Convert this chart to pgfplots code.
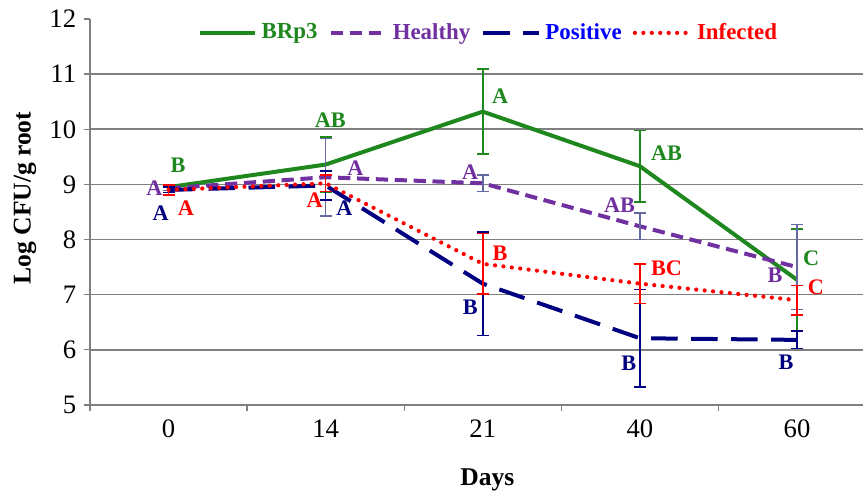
\documentclass[border=0pt]{standalone}
\usepackage{fontspec}
\setmainfont{Liberation Serif}
\usepackage{pgfplots}
\usepackage{pgfplotstable}
\pgfplotsset{compat=1.18}
\definecolor{gr}{RGB}{30,135,30}
\definecolor{pu}{RGB}{112,48,160}
\definecolor{nv}{RGB}{0,0,128}
\definecolor{bl}{RGB}{0,0,255}
\definecolor{rd}{RGB}{255,0,0}
\definecolor{sl}{RGB}{100,105,160}
\definecolor{gridc}{RGB}{128,128,128}

\pgfplotstableread{
x y e
0 8.95 0.00
1 9.36 0.50
2 10.32 0.77
3 9.33 0.65
4 7.27 0.92
}\brp
\pgfplotstableread{
x y e
0 8.93 0.04
1 9.13 0.70
2 9.02 0.15
3 8.24 0.24
4 7.50 0.77
}\healthy
\pgfplotstableread{
x y e
0 8.90 0.05
1 8.98 0.26
2 7.20 0.94
3 6.21 0.88
4 6.18 0.16
}\positive
\pgfplotstableread{
x y e
0 8.90 0.09
1 9.02 0.15
2 7.56 0.55
3 7.20 0.36
4 6.90 0.27
}\infected

\begin{document}
\begin{tikzpicture}
\begin{axis}[
  scale only axis, width=347.9pt, height=173.7pt,
  xmin=-0.5, xmax=4.42, ymin=5, ymax=12,
  axis lines*=left,
  axis line style={draw=gridc, line width=0.7pt},
  xtick={-0.5,0.5,1.5,2.5,3.5}, xticklabels={,,,,},
  extra x ticks={0,1,2,3,4}, extra x tick labels={0,14,21,40,60},
  extra x tick style={major tick length=0pt, grid=none},
  ytick={6,...,11}, extra y ticks={5,12}, extra y tick style={grid=none},
  ymajorgrids, grid style={gridc, line width=0.7pt},
  tick align=outside, major tick length=2.7pt,
  tick style={gridc, line width=0.6pt},
  /pgf/number format/assume math mode=true,
  tick label style={font=\fontsize{12}{14}\selectfont},
  xticklabel style={yshift=-3pt},
  xlabel={Days},
  xlabel style={font=\bfseries\fontsize{11.5}{13}\selectfont, at={(axis description cs:0.514,-0.195)}, anchor=center},
  ylabel={Log CFU/g root},
  ylabel style={font=\bfseries\fontsize{11.5}{13}\selectfont, at={(axis description cs:-0.0842,0.536)}, anchor=center},
  legend style={draw=none, fill=none, at={(axis description cs:0.517,0.964)}, anchor=center,
    legend columns=-1, font=\bfseries\fontsize{10.3}{12}\selectfont,
    /tikz/every even column/.append style={column sep=3pt}},
  legend image code/.code={\draw[#1] (0pt,0pt) -- (25pt,0pt);},
  clip=false,
]
\addplot[gr, line width=1.8pt, error bars/.cd, y dir=both, y explicit,
  error bar style={gr, solid, line width=0.7pt},
  error mark options={gr, solid, rotate=90, mark size=2.7pt, line width=0.7pt}]
  table[x=x, y=y, y error=e]{\brp};
\addlegendentry{\textcolor{gr}{BRp3}}
\addplot[pu, line width=1.8pt, dash pattern=on 5.5pt off 3pt, error bars/.cd, y dir=both, y explicit,
  error bar style={sl, solid, line width=0.7pt},
  error mark options={sl, solid, rotate=90, mark size=2.7pt, line width=0.7pt}]
  table[x=x, y=y, y error=e]{\healthy};
\addlegendentry{\textcolor{pu}{Healthy}}
\addplot[nv, line width=1.8pt, dash pattern=on 12pt off 6pt, error bars/.cd, y dir=both, y explicit,
  error bar style={nv, solid, line width=0.7pt},
  error mark options={nv, solid, rotate=90, mark size=2.7pt, line width=0.7pt}]
  table[x=x, y=y, y error=e]{\positive};
\addlegendentry{\textcolor{bl}{Positive}}
\addplot[rd, line width=1.9pt, line cap=round, dash pattern=on 0pt off 3.8pt, error bars/.cd, y dir=both, y explicit,
  error bar style={rd, solid, line width=0.7pt, line cap=butt},
  error mark options={rd, solid, rotate=90, mark size=2.7pt, line width=0.7pt}]
  table[x=x, y=y, y error=e]{\infected};
\addlegendentry{\textcolor{rd}{Infected}}

\tikzset{lt/.style={font=\bfseries\fontsize{10}{12}\selectfont, inner sep=0pt}}
% Day 0
\node[lt, text=gr] at (axis cs:0.06,9.35) {B};
\node[lt, text=pu] at (axis cs:-0.09,8.94) {A};
\node[lt, text=nv] at (axis cs:-0.05,8.47) {A};
\node[lt, text=rd] at (axis cs:0.11,8.56) {A};
% Day 14
\node[lt, text=gr] at (axis cs:1.03,10.17) {AB};
\node[lt, text=pu] at (axis cs:1.19,9.30) {A};
\node[lt, text=rd] at (axis cs:0.93,8.72) {A};
\node[lt, text=nv] at (axis cs:1.12,8.57) {A};
% Day 21
\node[lt, text=gr] at (axis cs:2.11,10.60) {A};
\node[lt, text=pu] at (axis cs:1.92,9.23) {A};
\node[lt, text=rd] at (axis cs:2.11,7.76) {B};
\node[lt, text=nv] at (axis cs:1.92,6.78) {B};
% Day 40
\node[lt, text=gr] at (axis cs:3.17,9.57) {AB};
\node[lt, text=pu] at (axis cs:2.87,8.62) {AB};
\node[lt, text=rd] at (axis cs:3.17,7.48) {BC};
\node[lt, text=nv] at (axis cs:2.93,5.75) {B};
% Day 60
\node[lt, text=gr] at (axis cs:4.09,7.66) {C};
\node[lt, text=pu] at (axis cs:3.86,7.36) {B};
\node[lt, text=rd] at (axis cs:4.12,7.14) {C};
\node[lt, text=nv] at (axis cs:3.93,5.78) {B};
\end{axis}
\pgfresetboundingbox
\useasboundingbox ([xshift=-40.5pt,yshift=-39.2pt]current axis.south west) rectangle ([yshift=8.55pt]current axis.north east);
\end{tikzpicture}
\end{document}
